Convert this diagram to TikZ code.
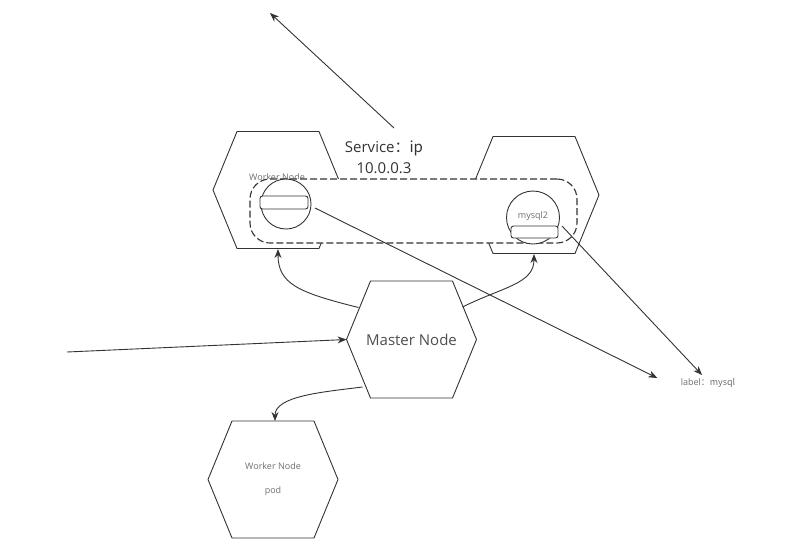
\documentclass[tikz,border=0pt]{standalone}
\usepackage{fontspec}
\setmainfont{Open Sans}
\newfontfamily\cjk{Noto Sans CJK SC}
\usetikzlibrary{arrows.meta}
\definecolor{linegray}{HTML}{333333}
\definecolor{textgray}{HTML}{4D4D4D}
\definecolor{smallgray}{HTML}{6E6E6E}

\begin{document}
\begin{tikzpicture}[x=1pt,y=-1pt,line width=0.9pt,
  hexline/.style={draw=linegray},
  arrow/.style={draw=linegray,-{Stealth[length=9pt,width=7pt]}},
  bigtext/.style={text=textgray,font=\fontsize{15}{21}\selectfont,inner sep=0pt},
  smalltext/.style={text=smallgray,font=\fontsize{9}{10}\selectfont,inner sep=0pt},
  pod/.style={circle,draw=linegray,fill=white,inner sep=0pt},
  podbox/.style={draw=linegray,fill=white,rounded corners=2.5pt,inner sep=0pt}]
  \useasboundingbox (0,0) rectangle (799,550);

  % hexagons
  \coordinate (wl) at (278,190);
  \coordinate (wr) at (534,195);
  \node[bigtext] (mn) at (411.5,339.5) {Master Node};
  \node[smalltext,align=center] (wb) at (273,479.5) {Worker Node\\[14pt]pod};
  \foreach \n in {wl,wr,mn,wb}
    \draw[hexline] ([shift={(-41,-58.5)}]\n.center) -- ([shift={(41,-58.5)}]\n.center)
      -- ([shift={(65,0)}]\n.center) -- ([shift={(41,58.5)}]\n.center)
      -- ([shift={(-41,58.5)}]\n.center) -- ([shift={(-65,0)}]\n.center) -- cycle;
  \node[smalltext] (wltext) at (277,177) {Worker Node};

  % service
  \node[draw=linegray,line width=1.1pt,dash pattern=on 7pt off 3pt,fill=white,rounded corners=20pt,
    minimum width=327pt,minimum height=64pt,inner sep=0pt] (svcbox) at (413.5,211) {};
  \node[bigtext,align=center,text=linegray] (svc) at (384,157) {Service\cjk{：}ip\\10.0.0.3};

  % pods
  \node[pod,minimum size=50pt] (podl) at (286,204) {};
  \node[podbox,minimum width=48pt,minimum height=13pt] (podlbox) at (284,202.5) {};
  \node[pod,minimum size=53pt] (podr) at (533,217.5) {};
  \node[smalltext] (podrtext) at (533,216) {mysql2};
  \node[podbox,minimum width=47pt,minimum height=12pt] (podrbox) at (534.5,232) {};

  \node[smalltext] (lbl) at (708,383) {label\cjk{：}mysql};

  % connectors
  \coordinate (svctail) at (394,128);
  \coordinate (svchead) at (270,13);
  \coordinate (entry) at (67,352);
  \draw[arrow] (svctail) -- (svchead);
  \draw[arrow] (entry) -- ([shift={(-65,0)}]mn.center);
  \draw[arrow] ([shift={(-53,-32)}]mn.center) .. controls +(-60,-15) and +(0,35) .. ([shift={(0,59)}]wl);
  \draw[arrow] ([shift={(51,-32.5)}]mn.center) .. controls +(40,-20) and +(0,30) .. ([shift={(0,59)}]wr);
  \draw[arrow] ([shift={(-49,47.5)}]mn.center) .. controls +(-40,5) and +(0,-25) .. ([shift={(2,-58.5)}]wb.center);
  \draw[arrow] ([shift={(29,4)}]podl.center) -- ([shift={(-23,-5)}]lbl.west);
  \draw[arrow] ([shift={(29,8.5)}]podr.center) -- ([shift={(-6,-8)}]lbl.center);
\end{tikzpicture}
\end{document}
